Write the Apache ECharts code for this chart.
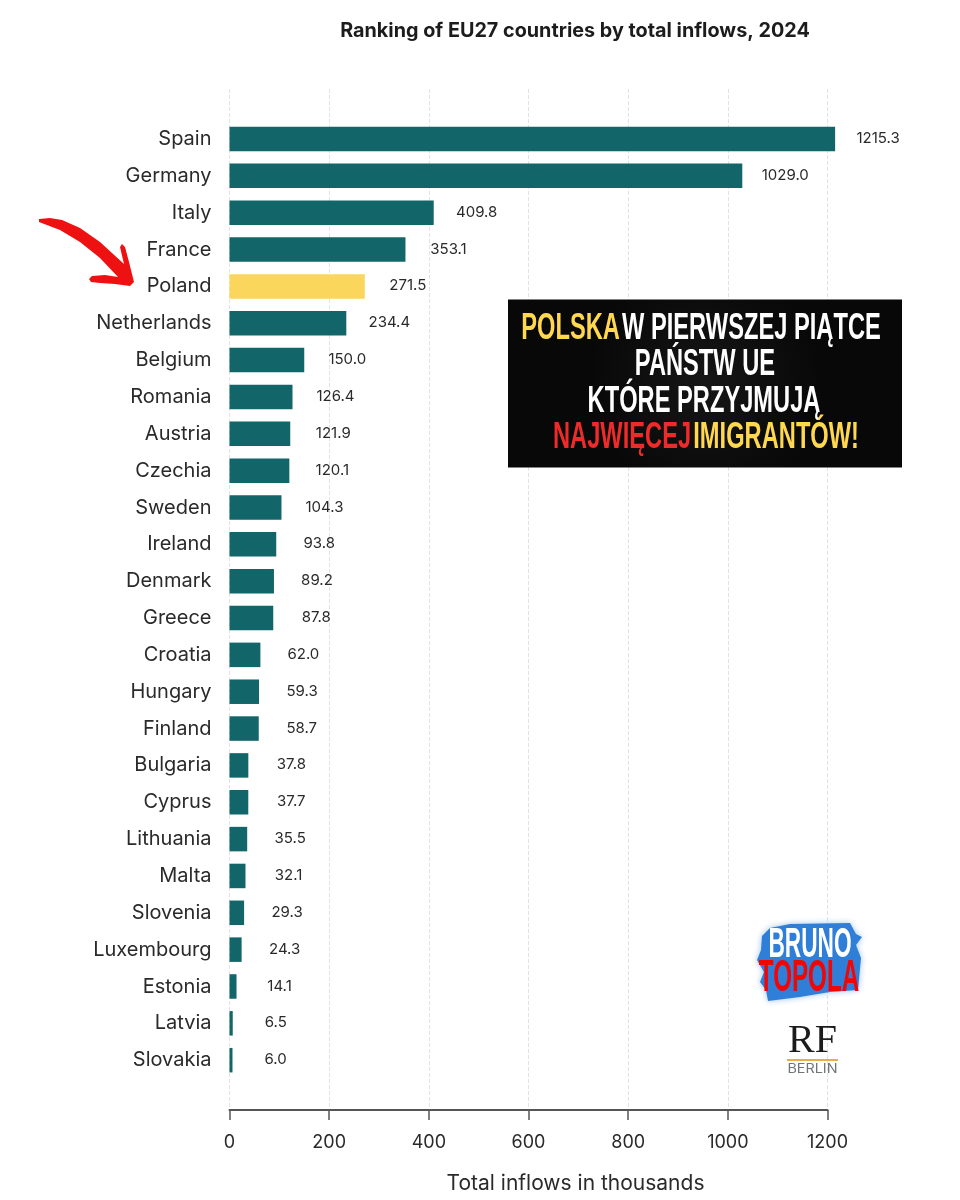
<!DOCTYPE html>
<html><head><meta charset="utf-8">
<style>html,body{margin:0;padding:0;background:#fff}#c{width:960px;height:1200px}</style>
<script src="https://cdn.jsdelivr.net/npm/echarts@6/dist/echarts.min.js"></script>
</head><body><div id="c"></div>
<script>
const countries = ['Spain','Germany','Italy','France','Poland','Netherlands','Belgium','Romania','Austria','Czechia','Sweden','Ireland','Denmark','Greece','Croatia','Hungary','Finland','Bulgaria','Cyprus','Lithuania','Malta','Slovenia','Luxembourg','Estonia','Latvia','Slovakia'];
const inflows = [1215.3,1029.0,409.8,353.1,271.5,234.4,150.0,126.4,121.9,120.1,104.3,93.8,89.2,87.8,62.0,59.3,58.7,37.8,37.7,35.5,32.1,29.3,24.3,14.1,6.5,6.0];
const highlighted = 'Poland';
const titleText = 'Ranking of EU27 countries by total inflows, 2024';
const axisName = 'Total inflows in thousands';
const FONT = 'Inter';
const BOLD = '"Liberation Sans"';
const TEAL = '#126568', YELLOW = '#FBD65C', GOLD = '#FFD84F';
const F37 = 'bold 37px '+BOLD, SX = 0.64;

const chart = echarts.init(document.getElementById('c'), null, {renderer:'canvas'});
chart.setOption({
  animation:false,
  backgroundColor:'#fff',
  title:{text:titleText,left:570,top:16,textAlign:'center',
    textStyle:{fontFamily:FONT,fontWeight:700,fontSize:19.8,color:'#1c1c1c'}},
  grid:[
    {left:229.5,width:598,top:89,height:1021},
    {left:229.5,width:598,top:120.6,height:958}
  ],
  xAxis:[
    {gridIndex:0,type:'value',min:0,max:1200,interval:200,position:'bottom',
      axisLine:{show:true,lineStyle:{color:'#555',width:2}},
      axisTick:{show:true,length:10,lineStyle:{color:'#555',width:1.5}},
      axisLabel:{fontFamily:FONT,fontSize:18,color:'#2a2a2a',margin:24,formatter:v=>String(v)},
      splitLine:{show:true,lineStyle:{color:'#e2e2e2',type:'dashed',width:1}},
      name:axisName,nameLocation:'middle',nameGap:63,
      nameTextStyle:{fontFamily:FONT,fontSize:21,color:'#2a2a2a',padding:[0,0,0,94]}},
    {gridIndex:1,type:'value',min:0,max:1200,interval:200,show:false,splitLine:{show:false}}
  ],
  yAxis:[
    {gridIndex:0,type:'value',show:false,splitLine:{show:false}},
    {gridIndex:1,type:'category',data:countries,inverse:true,
      axisLine:{show:false},axisTick:{show:false},splitLine:{show:false},
      axisLabel:{fontFamily:FONT,fontSize:20,color:'#2a2a2a',margin:18,interval:0,padding:[5,0,0,0]}}
  ],
  series:[{
    type:'bar',xAxisIndex:1,yAxisIndex:1,clip:false,barWidth:24.5,
    data:countries.map((c,i)=>({value:inflows[i],itemStyle:{color:c===highlighted?YELLOW:TEAL}})),
    label:{show:true,position:'right',distance:43,align:'center',offset:[0,-0.5],
      formatter:p=>p.value.toFixed(1),
      fontFamily:FONT,fontSize:15,color:'#2a2a2a'}
  }],
  graphic:[
    {type:'polygon',z:20,shape:{points:[[39,219],[50,218],[62,220],[80,228],[100,242],[124,264],[120,247],[122,244],[125,247],[129,262],[134,282],[130,286],[115,284],[100,283],[91,282],[89,279],[92,276],[105,275],[118,277],[100,258],[80,242],[60,230],[39,222]]},
      style:{fill:'#EE1111'}},
    {type:'rect',shape:{x:508,y:299.5,width:394,height:168},z:20,
      style:{fill:new echarts.graphic.RadialGradient(0.5,0.5,0.7,[{offset:0,color:'#161616'},{offset:1,color:'#080808'}])}},
    {type:'text',z:21,x:701,y:329,scaleX:SX,style:{rich:{y:{fill:GOLD,font:F37},w:{fill:'#fff',font:F37}},text:'{y|POLSKA} {w|W PIERWSZEJ PIĄTCE}',align:'center',verticalAlign:'middle'}},
    {type:'text',z:21,x:705,y:365,scaleX:SX,style:{text:'PAŃSTW UE',fill:'#fff',font:F37,align:'center',verticalAlign:'middle'}},
    {type:'text',z:21,x:704,y:402,scaleX:SX,style:{text:'KTÓRE PRZYJMUJĄ',fill:'#fff',font:F37,align:'center',verticalAlign:'middle'}},
    {type:'text',z:21,x:706,y:438,scaleX:SX,style:{rich:{r:{fill:'#EE2A2A',font:F37},y:{fill:GOLD,font:F37}},text:'{r|NAJWIĘCEJ} {y|IMIGRANTÓW!}',align:'center',verticalAlign:'middle'}},
    {type:'polygon',z:20,shape:{points:[[762,936],[770,928],[790,924],[850,923],[856,934],[862,937],[856,945],[861,958],[858,990],[830,992],[800,997],[768,1001],[766,990],[760,982],[764,972],[757,960],[761,950]]},
      style:{fill:'#2F7FD8',shadowBlur:6,shadowColor:'rgba(60,130,220,0.5)'}},
    {type:'text',z:21,x:810,y:945,scaleX:0.54,style:{text:'BRUNO',fill:'#fff',font:'bold 42px '+BOLD,align:'center',verticalAlign:'middle'}},
    {type:'text',z:21,x:809,y:979,scaleX:0.55,style:{text:'TOPOLA',fill:'#F20505',font:'bold 44px '+BOLD,align:'center',verticalAlign:'middle'}},
    {type:'text',z:21,x:812.5,y:1041,style:{text:'RF',fill:'#1c1c1c',font:'40px "Liberation Serif"',align:'center',verticalAlign:'middle'}},
    {type:'rect',z:21,shape:{x:787,y:1059,width:51,height:2},style:{fill:'#E9AE4B'}},
    {type:'text',z:21,x:812.5,y:1069,scaleX:1.15,style:{text:'BERLIN',fill:'#6f7678',font:'12.5px '+FONT,align:'center',verticalAlign:'middle'}}
  ]
});
</script></body></html>
